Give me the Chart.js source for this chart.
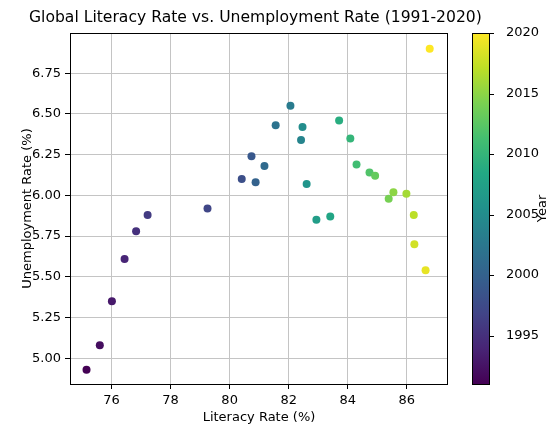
<!DOCTYPE html>
<html>
<head>
<meta charset="utf-8">
<script src="https://cdn.jsdelivr.net/npm/chart.js@4/dist/chart.umd.min.js"></script>
<style>
  html, body { margin: 0; padding: 0; background: #fff; }
  #wrap { width: 549px; height: 431px; }
</style>
</head>
<body>
<div id="wrap"><canvas id="ch_lit_unemp"></canvas></div>
<script>
// data, one point per year
const years = [1991, 1992, 1993, 1994, 1995, 1996, 1997, 1998, 1999, 2000,
               2001, 2002, 2003, 2004, 2005, 2006, 2007, 2008, 2009, 2010,
               2011, 2012, 2013, 2014, 2015, 2016, 2017, 2018, 2019, 2020];
const literacy = [75.15, 75.60, 76.01, 76.44, 76.83, 77.22, 79.25, 80.41, 80.74, 80.88,
                  81.18, 81.56, 82.06, 82.42, 82.47, 82.61, 82.94, 83.41, 83.71, 84.09,
                  84.30, 84.74, 84.93, 85.39, 85.55, 85.99, 86.24, 86.26, 86.64, 86.78];
const unemployment = [4.93, 5.08, 5.35, 5.61, 5.78, 5.88, 5.92, 6.10, 6.24, 6.08,
                      6.18, 6.43, 6.55, 6.34, 6.42, 6.07, 5.85, 5.87, 6.46, 6.35,
                      6.19, 6.14, 6.12, 5.98, 6.02, 6.01, 5.88, 5.70, 5.54, 6.90];

const xTicks = [76, 78, 80, 82, 84, 86];
const yTicks = [5.00, 5.25, 5.50, 5.75, 6.00, 6.25, 6.50, 6.75];
const yearTicks = [1995, 2000, 2005, 2010, 2015, 2020];

// viridis colormap
const VIRIDIS = ['#440154', '#482475', '#414487', '#355f8d', '#2a788e', '#21918c',
                 '#22a884', '#44bf70', '#7ad151', '#bddf26', '#fde725'];
function hex(h) { return [1, 3, 5].map(i => parseInt(h.slice(i, i + 2), 16)); }
function viridis(t) {
  t = Math.max(0, Math.min(1, t));
  const f = t * (VIRIDIS.length - 1);
  const i = Math.min(Math.floor(f), VIRIDIS.length - 2);
  const a = hex(VIRIDIS[i]), b = hex(VIRIDIS[i + 1]), k = f - i;
  const c = a.map((v, j) => Math.round(v + (b[j] - v) * k));
  return `rgb(${c[0]},${c[1]},${c[2]})`;
}

const yMin = years[0], yMax = years[years.length - 1];
const pointColors = years.map(y => viridis((y - yMin) / (yMax - yMin)));
const FONT = 'DejaVu Sans';

/* ── frame + colorbar ─────────────────────────── */
const framePlugin = {
  id: 'frame',
  afterDraw(chart) {
    const { ctx, chartArea: a } = chart;
    const cb = chart.scales.cb;
    ctx.save();
    ctx.strokeStyle = '#000';
    ctx.lineWidth = 1;
    ctx.strokeRect(Math.round(a.left) + 0.5, Math.round(a.top) + 0.5,
                   Math.round(a.right - a.left) - 1, Math.round(a.bottom - a.top));

    // colorbar
    const x0 = 472, x1 = 489;
    const top = cb.getPixelForValue(yMax), bot = cb.getPixelForValue(yMin);
    const g = ctx.createLinearGradient(0, bot, 0, top);
    VIRIDIS.forEach((c, i) => g.addColorStop(i / (VIRIDIS.length - 1), c));
    ctx.fillStyle = g;
    ctx.fillRect(x0, top, x1 - x0, bot - top);
    ctx.strokeRect(x0 + 0.5, Math.round(top) + 0.5, x1 - x0, Math.round(bot - top));
    ctx.beginPath();
    yearTicks.forEach(t => {
      const y = Math.round(cb.getPixelForValue(t)) + 0.5;
      ctx.moveTo(x1 + 0.5, y);
      ctx.lineTo(x1 + 5, y);
    });
    ctx.stroke();

    ctx.translate(543, (top + bot) / 2);
    ctx.rotate(-Math.PI / 2);
    ctx.fillStyle = '#000';
    ctx.font = `13px "${FONT}"`;
    ctx.textAlign = 'center';
    ctx.textBaseline = 'middle';
    ctx.fillText('Year', 0, 0);
    ctx.restore();
  }
};

const grid = { color: '#c4c4c4', lineWidth: 1, tickColor: '#000', tickLength: 5 };

new Chart(document.getElementById('ch_lit_unemp').getContext('2d'), {
  type: 'scatter',
  data: {
    datasets: [{
      data: literacy.map((v, i) => ({ x: v, y: unemployment[i] })),
      backgroundColor: pointColors,
      borderWidth: 0,
      pointRadius: 4,
      pointHoverRadius: 4
    }]
  },
  options: {
    responsive: true,
    maintainAspectRatio: false,
    animation: false,
    layout: { padding: { top: 0, left: 29, bottom: 0, right: 0 } },
    scales: {
      x: {
        type: 'linear', min: 74.59, max: 87.4,
        afterBuildTicks: s => { s.ticks = xTicks.map(v => ({ value: v })); },
        afterFit: s => { s.height = 47; s.paddingLeft = 0; s.paddingRight = 0; },
        grid,
        border: { display: false },
        ticks: { color: '#000', font: { family: FONT, size: 13 }, padding: 4, maxRotation: 0, autoSkip: false },
        title: { display: true, text: 'Literacy Rate (%)', color: '#000',
                 font: { family: FONT, size: 13 }, padding: { top: 0, bottom: 6 } }
      },
      y: {
        type: 'linear', min: 4.842, max: 6.997,
        afterBuildTicks: s => { s.ticks = yTicks.map(v => ({ value: v })); },
        afterFit: s => { s.width = 41; s.paddingTop = 0; s.paddingBottom = 0; },
        grid,
        border: { display: false },
        ticks: { color: '#000', font: { family: FONT, size: 13 }, padding: 4,
                 callback: v => Number(v).toFixed(2), autoSkip: false },
        title: { display: true, text: 'Unemployment Rate (%)', color: '#000',
                 font: { family: FONT, size: 13 }, padding: { top: -9, bottom: 0 } }
      },
      cb: {
        type: 'linear', position: 'right', min: yMin, max: yMax,
        afterBuildTicks: s => { s.ticks = yearTicks.map(v => ({ value: v })); },
        afterFit: s => { s.width = 101; s.paddingTop = 0; s.paddingBottom = 0; },
        grid: { display: false, drawOnChartArea: false },
        border: { display: false },
        ticks: { color: '#000', font: { family: FONT, size: 13 }, padding: 50,
                 callback: v => String(v), autoSkip: false }
      }
    },
    plugins: {
      legend: { display: false },
      tooltip: { enabled: false },
      title: {
        display: true, align: 'start',
        text: 'Global Literacy Rate vs. Unemployment Rate (1991-2020)',
        color: '#000',
        font: { family: FONT, size: 15.6, weight: 'normal', lineHeight: 1.2 },
        padding: { top: 8.7, bottom: 5.6 }
      }
    }
  },
  plugins: [framePlugin]
});
</script>
</body>
</html>
